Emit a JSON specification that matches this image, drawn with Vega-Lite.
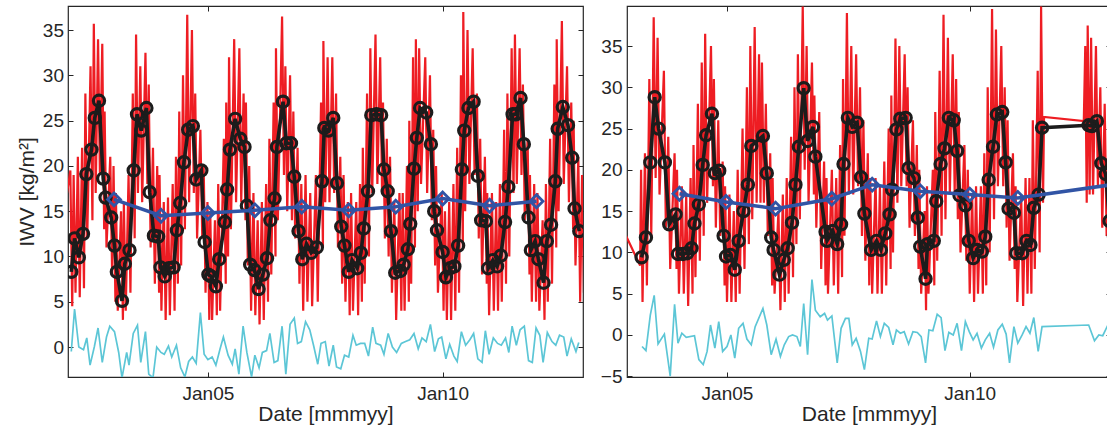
{
"$schema":"https://vega.github.io/schema/vega-lite/v6.json",
"background":"white",
"padding":{"left":15,"top":4,"right":0,"bottom":0},
"spacing":11,
"config":{
 "view":{"stroke":"#262626","strokeWidth":1.2},
 "font":"Liberation Sans",
 "axis":{"labelFont":"Liberation Sans","titleFont":"Liberation Sans","labelColor":"#262626","titleColor":"#262626","labelFontSize":19,"titleFontSize":21,"titleFontWeight":"normal","grid":false,"domain":false,"tickColor":"#262626","tickSize":-5,"tickWidth":1}
},
"datasets":{
"redL":[{"t":2002.0,"v":17},{"t":2002.07,"v":19.5},{"t":2002.11,"v":4.5},{"t":2002.14,"v":19},{"t":2002.18,"v":6},{"t":2002.23,"v":21},{"t":2002.27,"v":5.5},{"t":2002.32,"v":22},{"t":2002.36,"v":6.5},{"t":2002.39,"v":28},{"t":2002.43,"v":12},{"t":2002.50,"v":31},{"t":2002.54,"v":14},{"t":2002.57,"v":35.7},{"t":2002.61,"v":17},{"t":2002.66,"v":34},{"t":2002.70,"v":19},{"t":2002.75,"v":33.5},{"t":2002.79,"v":13},{"t":2002.80,"v":26},{"t":2002.84,"v":11},{"t":2002.92,"v":21},{"t":2002.96,"v":8},{"t":2002.99,"v":20},{"t":2003.03,"v":5},{"t":2003.04,"v":17},{"t":2003.08,"v":4},{"t":2003.15,"v":15},{"t":2003.19,"v":3},{"t":2003.21,"v":16},{"t":2003.25,"v":4},{"t":2003.31,"v":19},{"t":2003.35,"v":6},{"t":2003.40,"v":28},{"t":2003.44,"v":12},{"t":2003.47,"v":34.5},{"t":2003.51,"v":17},{"t":2003.56,"v":31},{"t":2003.60,"v":16},{"t":2003.67,"v":32.5},{"t":2003.71,"v":18},{"t":2003.74,"v":29},{"t":2003.78,"v":11},{"t":2003.83,"v":22},{"t":2003.87,"v":7},{"t":2003.92,"v":20},{"t":2003.96,"v":6},{"t":2003.97,"v":19},{"t":2004.01,"v":4},{"t":2004.06,"v":16},{"t":2004.10,"v":3},{"t":2004.15,"v":16.5},{"t":2004.19,"v":3.5},{"t":2004.25,"v":18},{"t":2004.29,"v":4},{"t":2004.32,"v":21},{"t":2004.36,"v":7},{"t":2004.39,"v":26},{"t":2004.43,"v":9},{"t":2004.47,"v":30},{"t":2004.51,"v":13},{"t":2004.56,"v":36.7},{"t":2004.60,"v":16},{"t":2004.66,"v":35},{"t":2004.70,"v":17},{"t":2004.73,"v":28},{"t":2004.77,"v":12},{"t":2004.84,"v":24},{"t":2004.88,"v":12},{"t":2004.91,"v":20},{"t":2004.95,"v":6},{"t":2004.99,"v":16},{"t":2005.03,"v":3},{"t":2005.05,"v":15},{"t":2005.09,"v":3},{"t":2005.15,"v":14},{"t":2005.19,"v":3.5},{"t":2005.22,"v":18},{"t":2005.26,"v":4},{"t":2005.34,"v":23},{"t":2005.38,"v":7},{"t":2005.39,"v":27},{"t":2005.43,"v":10},{"t":2005.45,"v":32},{"t":2005.49,"v":13},{"t":2005.56,"v":34},{"t":2005.60,"v":16},{"t":2005.67,"v":33},{"t":2005.71,"v":16},{"t":2005.76,"v":28},{"t":2005.80,"v":14},{"t":2005.81,"v":27},{"t":2005.85,"v":9},{"t":2005.88,"v":20},{"t":2005.92,"v":4},{"t":2005.97,"v":17},{"t":2006.01,"v":3.5},{"t":2006.06,"v":14},{"t":2006.10,"v":2.5},{"t":2006.15,"v":16},{"t":2006.19,"v":3},{"t":2006.24,"v":18},{"t":2006.28,"v":5},{"t":2006.31,"v":23},{"t":2006.35,"v":8},{"t":2006.40,"v":27},{"t":2006.44,"v":10},{"t":2006.45,"v":33},{"t":2006.49,"v":14},{"t":2006.58,"v":36.5},{"t":2006.62,"v":19},{"t":2006.65,"v":31},{"t":2006.69,"v":15},{"t":2006.75,"v":30},{"t":2006.79,"v":14},{"t":2006.82,"v":26},{"t":2006.86,"v":12},{"t":2006.91,"v":22},{"t":2006.95,"v":7},{"t":2006.99,"v":18},{"t":2007.03,"v":4},{"t":2007.08,"v":19},{"t":2007.12,"v":5},{"t":2007.18,"v":17},{"t":2007.22,"v":4.5},{"t":2007.30,"v":19},{"t":2007.34,"v":5},{"t":2007.41,"v":27},{"t":2007.45,"v":11},{"t":2007.46,"v":33.8},{"t":2007.50,"v":16},{"t":2007.55,"v":32},{"t":2007.59,"v":16},{"t":2007.65,"v":32},{"t":2007.69,"v":17},{"t":2007.73,"v":28},{"t":2007.77,"v":11},{"t":2007.82,"v":21},{"t":2007.86,"v":7},{"t":2007.89,"v":19},{"t":2007.93,"v":5},{"t":2007.98,"v":16},{"t":2008.02,"v":3.5},{"t":2008.05,"v":17},{"t":2008.09,"v":4},{"t":2008.16,"v":16},{"t":2008.20,"v":3.5},{"t":2008.24,"v":18},{"t":2008.28,"v":5},{"t":2008.30,"v":22},{"t":2008.34,"v":7},{"t":2008.39,"v":28},{"t":2008.43,"v":10},{"t":2008.46,"v":33},{"t":2008.50,"v":17},{"t":2008.57,"v":34.5},{"t":2008.61,"v":18},{"t":2008.67,"v":32},{"t":2008.71,"v":17},{"t":2008.73,"v":27},{"t":2008.77,"v":12},{"t":2008.81,"v":23},{"t":2008.85,"v":10},{"t":2008.88,"v":21},{"t":2008.92,"v":6},{"t":2008.97,"v":16},{"t":2009.01,"v":3},{"t":2009.08,"v":17},{"t":2009.12,"v":4},{"t":2009.15,"v":17},{"t":2009.19,"v":4},{"t":2009.24,"v":20},{"t":2009.28,"v":5},{"t":2009.29,"v":25},{"t":2009.33,"v":7},{"t":2009.37,"v":32},{"t":2009.41,"v":11},{"t":2009.43,"v":34},{"t":2009.47,"v":15},{"t":2009.50,"v":33},{"t":2009.54,"v":18},{"t":2009.63,"v":32},{"t":2009.67,"v":17},{"t":2009.73,"v":30},{"t":2009.77,"v":14},{"t":2009.80,"v":24},{"t":2009.84,"v":9},{"t":2009.86,"v":20},{"t":2009.90,"v":6},{"t":2009.98,"v":17},{"t":2010.02,"v":4},{"t":2010.05,"v":15},{"t":2010.09,"v":3},{"t":2010.14,"v":16},{"t":2010.18,"v":3},{"t":2010.23,"v":18},{"t":2010.27,"v":4},{"t":2010.31,"v":22},{"t":2010.35,"v":6},{"t":2010.39,"v":30},{"t":2010.43,"v":11},{"t":2010.44,"v":37},{"t":2010.48,"v":15},{"t":2010.53,"v":35},{"t":2010.57,"v":18},{"t":2010.64,"v":33},{"t":2010.68,"v":19},{"t":2010.73,"v":28},{"t":2010.77,"v":12},{"t":2010.80,"v":23},{"t":2010.84,"v":8},{"t":2010.90,"v":21},{"t":2010.94,"v":7},{"t":2010.95,"v":17},{"t":2010.99,"v":3.5},{"t":2011.05,"v":17},{"t":2011.09,"v":4},{"t":2011.14,"v":16},{"t":2011.18,"v":4},{"t":2011.22,"v":18},{"t":2011.26,"v":5},{"t":2011.31,"v":24},{"t":2011.35,"v":7},{"t":2011.38,"v":28},{"t":2011.42,"v":10},{"t":2011.47,"v":33},{"t":2011.51,"v":17},{"t":2011.54,"v":34.5},{"t":2011.58,"v":18},{"t":2011.64,"v":33},{"t":2011.68,"v":19},{"t":2011.71,"v":29},{"t":2011.75,"v":14},{"t":2011.81,"v":23},{"t":2011.85,"v":8},{"t":2011.86,"v":19},{"t":2011.90,"v":5},{"t":2011.95,"v":18},{"t":2011.99,"v":5},{"t":2012.02,"v":17},{"t":2012.06,"v":4},{"t":2012.13,"v":14},{"t":2012.17,"v":3},{"t":2012.20,"v":18},{"t":2012.24,"v":5},{"t":2012.29,"v":23},{"t":2012.33,"v":7},{"t":2012.38,"v":29},{"t":2012.42,"v":11},{"t":2012.43,"v":34},{"t":2012.47,"v":15},{"t":2012.54,"v":36},{"t":2012.58,"v":18},{"t":2012.65,"v":31},{"t":2012.69,"v":16},{"t":2012.74,"v":27},{"t":2012.78,"v":13},{"t":2012.79,"v":25},{"t":2012.83,"v":9},{"t":2012.89,"v":21},{"t":2012.93,"v":5},{"t":2012.97,"v":19},{"t":2013.01,"v":6}],
"monL":[{"t":2002.09,"v":8.3},{"t":2002.16,"v":12.0},{"t":2002.25,"v":9.9},{"t":2002.34,"v":12.5},{"t":2002.41,"v":19.1},{"t":2002.52,"v":21.8},{"t":2002.59,"v":25.3},{"t":2002.68,"v":27.2},{"t":2002.77,"v":18.6},{"t":2002.82,"v":16.5},{"t":2002.94,"v":14.3},{"t":2003.01,"v":11.2},{"t":2003.06,"v":8.3},{"t":2003.17,"v":5.1},{"t":2003.23,"v":9.2},{"t":2003.33,"v":10.7},{"t":2003.42,"v":19.5},{"t":2003.49,"v":25.7},{"t":2003.58,"v":23.9},{"t":2003.69,"v":26.4},{"t":2003.76,"v":17.1},{"t":2003.85,"v":12.3},{"t":2003.94,"v":12.2},{"t":2003.99,"v":8.8},{"t":2004.08,"v":7.8},{"t":2004.17,"v":8.7},{"t":2004.27,"v":8.8},{"t":2004.34,"v":12.9},{"t":2004.41,"v":15.9},{"t":2004.49,"v":20.4},{"t":2004.58,"v":24.0},{"t":2004.68,"v":24.4},{"t":2004.75,"v":18.5},{"t":2004.86,"v":19.5},{"t":2004.93,"v":11.6},{"t":2005.01,"v":8.0},{"t":2005.07,"v":7.8},{"t":2005.17,"v":6.7},{"t":2005.24,"v":9.7},{"t":2005.36,"v":13.8},{"t":2005.41,"v":17.4},{"t":2005.47,"v":21.8},{"t":2005.58,"v":25.2},{"t":2005.69,"v":23.0},{"t":2005.78,"v":22.1},{"t":2005.83,"v":15.6},{"t":2005.90,"v":9.1},{"t":2005.99,"v":8.5},{"t":2006.08,"v":6.4},{"t":2006.17,"v":8.0},{"t":2006.26,"v":9.8},{"t":2006.33,"v":14.0},{"t":2006.42,"v":16.4},{"t":2006.47,"v":22.1},{"t":2006.60,"v":27.1},{"t":2006.67,"v":22.5},{"t":2006.77,"v":22.5},{"t":2006.84,"v":18.8},{"t":2006.93,"v":12.8},{"t":2007.01,"v":9.7},{"t":2007.10,"v":11.4},{"t":2007.20,"v":10.4},{"t":2007.32,"v":11.0},{"t":2007.43,"v":18.3},{"t":2007.48,"v":24.2},{"t":2007.57,"v":23.9},{"t":2007.67,"v":25.3},{"t":2007.75,"v":18.1},{"t":2007.84,"v":13.3},{"t":2007.91,"v":11.2},{"t":2008.00,"v":8.3},{"t":2008.07,"v":9.6},{"t":2008.18,"v":8.7},{"t":2008.26,"v":10.4},{"t":2008.32,"v":13.1},{"t":2008.41,"v":17.2},{"t":2008.48,"v":25.6},{"t":2008.59,"v":25.7},{"t":2008.69,"v":25.6},{"t":2008.75,"v":19.6},{"t":2008.83,"v":17.2},{"t":2008.90,"v":12.8},{"t":2008.99,"v":8.2},{"t":2009.10,"v":8.4},{"t":2009.17,"v":9.1},{"t":2009.26,"v":10.8},{"t":2009.31,"v":13.6},{"t":2009.39,"v":19.7},{"t":2009.45,"v":23.1},{"t":2009.52,"v":26.4},{"t":2009.65,"v":25.9},{"t":2009.75,"v":22.4},{"t":2009.82,"v":15.0},{"t":2009.88,"v":12.9},{"t":2010.00,"v":10.5},{"t":2010.07,"v":7.7},{"t":2010.16,"v":8.7},{"t":2010.25,"v":8.9},{"t":2010.33,"v":11.2},{"t":2010.41,"v":19.6},{"t":2010.46,"v":23.9},{"t":2010.55,"v":26.4},{"t":2010.66,"v":27.1},{"t":2010.75,"v":18.9},{"t":2010.82,"v":14.0},{"t":2010.92,"v":13.9},{"t":2010.97,"v":8.7},{"t":2011.07,"v":9.6},{"t":2011.16,"v":8.9},{"t":2011.24,"v":10.1},{"t":2011.33,"v":13.8},{"t":2011.40,"v":17.7},{"t":2011.49,"v":25.7},{"t":2011.56,"v":25.7},{"t":2011.66,"v":27.5},{"t":2011.73,"v":22.4},{"t":2011.83,"v":14.3},{"t":2011.88,"v":10.7},{"t":2011.97,"v":11.7},{"t":2012.04,"v":9.7},{"t":2012.15,"v":7.1},{"t":2012.22,"v":11.7},{"t":2012.31,"v":13.5},{"t":2012.40,"v":18.3},{"t":2012.45,"v":24.1},{"t":2012.56,"v":26.5},{"t":2012.67,"v":24.5},{"t":2012.76,"v":20.9},{"t":2012.81,"v":15.3},{"t":2012.91,"v":12.8}],
"annL":[{"t":2003,"v":16.3},{"t":2004,"v":14.5},{"t":2005,"v":14.8},{"t":2006,"v":15.1},{"t":2007,"v":15.5},{"t":2008,"v":15.1},{"t":2009,"v":15.5},{"t":2010,"v":16.4},{"t":2011,"v":15.6},{"t":2012,"v":16.1}],
"cyL":[{"t":2002.09,"v":-0.5},{"t":2002.16,"v":4.2},{"t":2002.25,"v":0},{"t":2002.35,"v":-0.3},{"t":2002.42,"v":1.0},{"t":2002.49,"v":-2.0},{"t":2002.58,"v":0},{"t":2002.66,"v":2.1},{"t":2002.75,"v":-1.7},{"t":2002.84,"v":1.1},{"t":2002.91,"v":2.3},{"t":2003.01,"v":1.7},{"t":2003.10,"v":-0.6},{"t":2003.17,"v":-3.4},{"t":2003.27,"v":-0.6},{"t":2003.32,"v":-2.0},{"t":2003.41,"v":1.5},{"t":2003.50,"v":2.4},{"t":2003.57,"v":-1.7},{"t":2003.67,"v":1.7},{"t":2003.74,"v":-3.0},{"t":2003.83,"v":-3.4},{"t":2003.91,"v":0},{"t":2004.00,"v":-0.6},{"t":2004.07,"v":-0.8},{"t":2004.16,"v":0.1},{"t":2004.23,"v":-1.1},{"t":2004.33,"v":0.2},{"t":2004.42,"v":-2.3},{"t":2004.51,"v":-3.3},{"t":2004.59,"v":-1.6},{"t":2004.67,"v":-1.1},{"t":2004.75,"v":-1.8},{"t":2004.84,"v":3.8},{"t":2004.92,"v":-0.8},{"t":2005.00,"v":-1.4},{"t":2005.09,"v":-1.1},{"t":2005.17,"v":-2.0},{"t":2005.26,"v":-0.2},{"t":2005.33,"v":1.1},{"t":2005.43,"v":-0.9},{"t":2005.52,"v":-1.9},{"t":2005.58,"v":-0.2},{"t":2005.66,"v":-3.0},{"t":2005.75,"v":2.3},{"t":2005.83,"v":-0.6},{"t":2005.93,"v":-3.3},{"t":2006.00,"v":-0.9},{"t":2006.09,"v":-2.3},{"t":2006.16,"v":-0.6},{"t":2006.25,"v":-0.4},{"t":2006.32,"v":1.5},{"t":2006.41,"v":-1.7},{"t":2006.49,"v":-1.5},{"t":2006.58,"v":2.3},{"t":2006.66,"v":-3.0},{"t":2006.75,"v":2.5},{"t":2006.84,"v":3.2},{"t":2006.91,"v":0.4},{"t":2006.99,"v":0.6},{"t":2007.08,"v":2.8},{"t":2007.17,"v":1.9},{"t":2007.25,"v":0.2},{"t":2007.34,"v":-1.9},{"t":2007.41,"v":0.4},{"t":2007.50,"v":0.6},{"t":2007.58,"v":-2.1},{"t":2007.67,"v":0.2},{"t":2007.74,"v":-2.2},{"t":2007.83,"v":-2.4},{"t":2007.91,"v":-0.9},{"t":2008.00,"v":-1.1},{"t":2008.09,"v":1.3},{"t":2008.16,"v":0.2},{"t":2008.25,"v":0.4},{"t":2008.34,"v":0.4},{"t":2008.42,"v":-1.0},{"t":2008.51,"v":2.2},{"t":2008.58,"v":0.4},{"t":2008.68,"v":0.2},{"t":2008.75,"v":-0.8},{"t":2008.84,"v":1.5},{"t":2008.93,"v":0},{"t":2009.02,"v":-0.6},{"t":2009.12,"v":0.4},{"t":2009.21,"v":0.6},{"t":2009.30,"v":0.8},{"t":2009.39,"v":1.5},{"t":2009.48,"v":-0.2},{"t":2009.56,"v":1.0},{"t":2009.65,"v":0.6},{"t":2009.74,"v":2.5},{"t":2009.83,"v":-0.5},{"t":2009.91,"v":0.9},{"t":2009.98,"v":1.1},{"t":2010.07,"v":-1.3},{"t":2010.15,"v":0.3},{"t":2010.24,"v":-1.0},{"t":2010.31,"v":-1.6},{"t":2010.40,"v":1.7},{"t":2010.49,"v":0.2},{"t":2010.58,"v":0.8},{"t":2010.66,"v":1.5},{"t":2010.75,"v":-1.3},{"t":2010.84,"v":-1.7},{"t":2010.91,"v":1.8},{"t":2010.99,"v":-0.8},{"t":2011.08,"v":1.0},{"t":2011.17,"v":0.4},{"t":2011.25,"v":0.2},{"t":2011.34,"v":1.0},{"t":2011.41,"v":-0.6},{"t":2011.48,"v":2.3},{"t":2011.57,"v":0.2},{"t":2011.65,"v":1.9},{"t":2011.74,"v":2.3},{"t":2011.83,"v":-1.5},{"t":2011.91,"v":-1.7},{"t":2011.99,"v":2.1},{"t":2012.07,"v":1.3},{"t":2012.14,"v":-1.7},{"t":2012.23,"v":1.6},{"t":2012.33,"v":0.6},{"t":2012.41,"v":0.2},{"t":2012.49,"v":1.3},{"t":2012.58,"v":1.1},{"t":2012.65,"v":-1.0},{"t":2012.74,"v":0.9},{"t":2012.84,"v":-0.5},{"t":2012.90,"v":0.5}],
"redR":[{"t":2002.80,"v":13.5},{"t":2003.21,"v":8.4},{"t":2003.23,"v":20},{"t":2003.26,"v":4},{"t":2003.31,"v":22},{"t":2003.35,"v":6},{"t":2003.40,"v":31},{"t":2003.44,"v":12},{"t":2003.49,"v":38.5},{"t":2003.53,"v":19},{"t":2003.57,"v":36},{"t":2003.61,"v":17},{"t":2003.70,"v":32},{"t":2003.74,"v":13},{"t":2003.79,"v":24},{"t":2003.83,"v":8},{"t":2003.92,"v":22},{"t":2003.96,"v":8},{"t":2003.97,"v":20},{"t":2004.01,"v":5},{"t":2004.07,"v":18},{"t":2004.11,"v":5},{"t":2004.16,"v":17},{"t":2004.20,"v":3.5},{"t":2004.25,"v":19},{"t":2004.29,"v":5},{"t":2004.31,"v":23},{"t":2004.35,"v":7},{"t":2004.40,"v":28},{"t":2004.44,"v":9},{"t":2004.48,"v":33},{"t":2004.52,"v":12},{"t":2004.55,"v":36.5},{"t":2004.59,"v":16},{"t":2004.67,"v":35},{"t":2004.71,"v":18},{"t":2004.73,"v":31},{"t":2004.77,"v":13},{"t":2004.82,"v":26},{"t":2004.86,"v":12},{"t":2004.91,"v":21},{"t":2004.95,"v":6},{"t":2004.96,"v":18},{"t":2005.00,"v":4},{"t":2005.05,"v":17},{"t":2005.09,"v":4},{"t":2005.14,"v":15},{"t":2005.18,"v":4},{"t":2005.22,"v":20},{"t":2005.26,"v":5},{"t":2005.32,"v":25},{"t":2005.36,"v":8},{"t":2005.41,"v":30},{"t":2005.45,"v":11},{"t":2005.48,"v":35},{"t":2005.52,"v":14},{"t":2005.57,"v":37.3},{"t":2005.61,"v":16},{"t":2005.66,"v":34},{"t":2005.69,"v":16},{"t":2005.72,"v":33},{"t":2005.76,"v":16},{"t":2005.80,"v":28},{"t":2005.84,"v":12},{"t":2005.89,"v":22},{"t":2005.93,"v":6},{"t":2005.94,"v":19},{"t":2005.98,"v":5},{"t":2006.06,"v":15},{"t":2006.10,"v":3},{"t":2006.15,"v":17},{"t":2006.19,"v":4},{"t":2006.23,"v":19},{"t":2006.27,"v":5},{"t":2006.32,"v":24},{"t":2006.36,"v":7},{"t":2006.39,"v":30},{"t":2006.43,"v":11},{"t":2006.46,"v":34},{"t":2006.50,"v":14},{"t":2006.56,"v":39.8},{"t":2006.60,"v":20},{"t":2006.64,"v":35},{"t":2006.68,"v":16},{"t":2006.75,"v":33},{"t":2006.79,"v":17},{"t":2006.80,"v":29},{"t":2006.84,"v":13},{"t":2006.90,"v":27},{"t":2006.94,"v":8},{"t":2007.00,"v":21},{"t":2007.03,"v":6},{"t":2007.05,"v":19},{"t":2007.08,"v":5},{"t":2007.16,"v":20},{"t":2007.20,"v":6},{"t":2007.25,"v":19},{"t":2007.29,"v":5},{"t":2007.33,"v":23},{"t":2007.37,"v":7},{"t":2007.39,"v":31},{"t":2007.42,"v":12},{"t":2007.47,"v":39},{"t":2007.51,"v":17},{"t":2007.56,"v":35},{"t":2007.60,"v":17},{"t":2007.66,"v":34},{"t":2007.70,"v":18},{"t":2007.74,"v":30},{"t":2007.78,"v":12},{"t":2007.81,"v":26},{"t":2007.85,"v":9},{"t":2007.90,"v":22},{"t":2007.93,"v":6},{"t":2007.95,"v":19},{"t":2007.99,"v":5},{"t":2008.06,"v":19},{"t":2008.10,"v":5},{"t":2008.15,"v":18},{"t":2008.19,"v":5},{"t":2008.24,"v":21},{"t":2008.28,"v":6},{"t":2008.33,"v":25},{"t":2008.37,"v":8},{"t":2008.385,"v":29},{"t":2008.42,"v":10},{"t":2008.47,"v":35.9},{"t":2008.51,"v":16},{"t":2008.55,"v":35},{"t":2008.59,"v":18},{"t":2008.66,"v":34},{"t":2008.70,"v":18},{"t":2008.72,"v":30},{"t":2008.76,"v":13},{"t":2008.83,"v":26},{"t":2008.87,"v":12},{"t":2008.91,"v":23},{"t":2008.945,"v":8},{"t":2008.96,"v":20},{"t":2009.00,"v":5},{"t":2009.07,"v":15},{"t":2009.10,"v":3},{"t":2009.12,"v":18},{"t":2009.15,"v":5},{"t":2009.24,"v":20},{"t":2009.27,"v":6},{"t":2009.29,"v":27},{"t":2009.33,"v":9},{"t":2009.38,"v":32},{"t":2009.42,"v":12},{"t":2009.46,"v":38.8},{"t":2009.50,"v":14},{"t":2009.55,"v":36},{"t":2009.59,"v":17},{"t":2009.65,"v":34},{"t":2009.69,"v":17},{"t":2009.72,"v":31},{"t":2009.755,"v":14},{"t":2009.775,"v":27},{"t":2009.81,"v":10},{"t":2009.89,"v":23},{"t":2009.93,"v":9},{"t":2009.96,"v":20},{"t":2010.00,"v":5},{"t":2010.05,"v":17},{"t":2010.09,"v":4},{"t":2010.13,"v":18},{"t":2010.17,"v":5},{"t":2010.23,"v":18},{"t":2010.27,"v":5},{"t":2010.30,"v":22},{"t":2010.34,"v":6},{"t":2010.37,"v":30},{"t":2010.41,"v":10},{"t":2010.46,"v":39.5},{"t":2010.50,"v":14},{"t":2010.54,"v":37},{"t":2010.58,"v":18},{"t":2010.65,"v":35},{"t":2010.69,"v":18},{"t":2010.72,"v":30},{"t":2010.76,"v":13},{"t":2010.78,"v":26},{"t":2010.82,"v":9},{"t":2010.89,"v":22},{"t":2010.925,"v":8},{"t":2010.945,"v":18},{"t":2010.98,"v":4},{"t":2011.06,"v":17},{"t":2011.10,"v":3.5},{"t":2011.15,"v":19},{"t":2011.19,"v":5},{"t":2011.23,"v":19},{"t":2011.27,"v":5},{"t":2011.30,"v":26},{"t":2011.34,"v":8},{"t":2011.40,"v":32},{"t":2011.44,"v":10},{"t":2011.47,"v":39.8},{"t":2011.51,"v":16},{"t":2011.53,"v":26.4},{"t":2012.35,"v":25.9},{"t":2012.38,"v":35},{"t":2012.41,"v":16},{"t":2012.43,"v":37.5},{"t":2012.47,"v":17},{"t":2012.50,"v":36},{"t":2012.54,"v":17},{"t":2012.60,"v":35},{"t":2012.64,"v":18},{"t":2012.69,"v":30},{"t":2012.73,"v":13},{"t":2012.78,"v":28},{"t":2012.82,"v":12},{"t":2012.86,"v":24},{"t":2012.90,"v":7},{"t":2012.95,"v":20},{"t":2012.99,"v":5}],
"monR":[{"t":2003.24,"v":9.4},{"t":2003.33,"v":11.8},{"t":2003.42,"v":20.9},{"t":2003.51,"v":28.8},{"t":2003.59,"v":25.0},{"t":2003.72,"v":20.9},{"t":2003.81,"v":13.4},{"t":2003.94,"v":14.6},{"t":2003.99,"v":9.8},{"t":2004.09,"v":9.8},{"t":2004.18,"v":9.9},{"t":2004.27,"v":10.5},{"t":2004.33,"v":13.5},{"t":2004.42,"v":15.8},{"t":2004.50,"v":20.6},{"t":2004.57,"v":24.2},{"t":2004.69,"v":26.8},{"t":2004.75,"v":19.6},{"t":2004.84,"v":19.9},{"t":2004.93,"v":12.0},{"t":2004.98,"v":9.5},{"t":2005.07,"v":9.7},{"t":2005.16,"v":7.9},{"t":2005.24,"v":11.4},{"t":2005.34,"v":15.0},{"t":2005.43,"v":18.2},{"t":2005.50,"v":22.9},{"t":2005.74,"v":24.1},{"t":2005.82,"v":19.6},{"t":2005.91,"v":11.8},{"t":2005.96,"v":10.3},{"t":2006.08,"v":7.3},{"t":2006.17,"v":9.1},{"t":2006.25,"v":10.5},{"t":2006.34,"v":13.6},{"t":2006.41,"v":18.2},{"t":2006.48,"v":22.8},{"t":2006.58,"v":29.9},{"t":2006.66,"v":23.5},{"t":2006.77,"v":25.2},{"t":2006.82,"v":21.6},{"t":2007.03,"v":12.5},{"t":2007.06,"v":11.4},{"t":2007.18,"v":12.6},{"t":2007.27,"v":11.0},{"t":2007.35,"v":13.4},{"t":2007.40,"v":20.7},{"t":2007.49,"v":26.3},{"t":2007.58,"v":25.2},{"t":2007.68,"v":25.7},{"t":2007.76,"v":19.1},{"t":2007.83,"v":14.7},{"t":2007.97,"v":10.3},{"t":2008.08,"v":11.4},{"t":2008.17,"v":10.3},{"t":2008.26,"v":12.3},{"t":2008.35,"v":14.6},{"t":2008.40,"v":17.6},{"t":2008.49,"v":24.9},{"t":2008.57,"v":26.2},{"t":2008.68,"v":26.3},{"t":2008.74,"v":20.2},{"t":2008.85,"v":19.0},{"t":2008.93,"v":14.2},{"t":2008.98,"v":10.7},{"t":2009.09,"v":6.8},{"t":2009.13,"v":11.0},{"t":2009.26,"v":11.4},{"t":2009.31,"v":16.2},{"t":2009.40,"v":20.7},{"t":2009.48,"v":22.6},{"t":2009.57,"v":26.3},{"t":2009.67,"v":26.0},{"t":2009.74,"v":22.3},{"t":2009.79,"v":16.9},{"t":2009.91,"v":15.7},{"t":2009.98,"v":11.4},{"t":2010.07,"v":9.3},{"t":2010.15,"v":10.3},{"t":2010.25,"v":10.1},{"t":2010.32,"v":11.9},{"t":2010.39,"v":18.8},{"t":2010.48,"v":22.8},{"t":2010.56,"v":26.7},{"t":2010.67,"v":27.0},{"t":2010.74,"v":20.9},{"t":2010.80,"v":15.3},{"t":2010.91,"v":14.8},{"t":2010.96,"v":9.9},{"t":2011.08,"v":9.9},{"t":2011.17,"v":11.4},{"t":2011.25,"v":10.9},{"t":2011.32,"v":15.4},{"t":2011.42,"v":17.0},{"t":2011.49,"v":25.1},{"t":2012.45,"v":25.4},{"t":2012.52,"v":25.3},{"t":2012.62,"v":25.9},{"t":2012.71,"v":20.8},{"t":2012.80,"v":19.5},{"t":2012.88,"v":13.8},{"t":2012.97,"v":12.0}],
"annR":[{"t":2004.02,"v":17.1},{"t":2004.98,"v":16.1},{"t":2006.0,"v":15.3},{"t":2007.16,"v":16.5},{"t":2007.99,"v":18.2},{"t":2008.98,"v":17.4},{"t":2010.0,"v":17.0},{"t":2010.99,"v":16.6},{"t":2013.05,"v":18.3}],
"cyR":[{"t":2003.25,"v":-1.4},{"t":2003.33,"v":-1.9},{"t":2003.42,"v":2.4},{"t":2003.50,"v":4.8},{"t":2003.58,"v":-1.1},{"t":2003.71,"v":0.1},{"t":2003.83,"v":-5.0},{"t":2003.92,"v":3.7},{"t":2003.99,"v":-1.0},{"t":2004.07,"v":0.2},{"t":2004.16,"v":-0.3},{"t":2004.33,"v":-0.1},{"t":2004.42,"v":-3.0},{"t":2004.51,"v":-3.6},{"t":2004.59,"v":-2.0},{"t":2004.66,"v":1.2},{"t":2004.75,"v":-1.6},{"t":2004.83,"v":1.6},{"t":2004.91,"v":-2.0},{"t":2005.00,"v":-1.4},{"t":2005.08,"v":0},{"t":2005.16,"v":-2.8},{"t":2005.24,"v":0.8},{"t":2005.33,"v":1.4},{"t":2005.41,"v":-0.5},{"t":2005.50,"v":-1.2},{"t":2005.58,"v":1.0},{"t":2005.74,"v":3.2},{"t":2005.82,"v":1.2},{"t":2005.91,"v":-2.4},{"t":2006.01,"v":-0.5},{"t":2006.10,"v":-2.6},{"t":2006.18,"v":-1.2},{"t":2006.27,"v":-0.2},{"t":2006.35,"v":0},{"t":2006.44,"v":-0.2},{"t":2006.51,"v":-1.4},{"t":2006.58,"v":3.8},{"t":2006.66,"v":-2.4},{"t":2006.75,"v":6.7},{"t":2006.82,"v":3.0},{"t":2006.92,"v":2.2},{"t":2007.01,"v":2.6},{"t":2007.07,"v":1.8},{"t":2007.16,"v":2.3},{"t":2007.27,"v":-3.4},{"t":2007.35,"v":0.8},{"t":2007.44,"v":2.0},{"t":2007.51,"v":2.0},{"t":2007.58,"v":-1.2},{"t":2007.66,"v":-0.4},{"t":2007.75,"v":-2.0},{"t":2007.83,"v":-4.2},{"t":2007.92,"v":-0.4},{"t":2007.99,"v":-0.5},{"t":2008.08,"v":1.7},{"t":2008.16,"v":-0.2},{"t":2008.24,"v":1.4},{"t":2008.33,"v":0.9},{"t":2008.42,"v":-1.2},{"t":2008.49,"v":0.6},{"t":2008.57,"v":0.2},{"t":2008.65,"v":0.4},{"t":2008.74,"v":-1.1},{"t":2008.83,"v":0.4},{"t":2008.92,"v":0.3},{"t":2009.00,"v":-0.2},{"t":2009.09,"v":-3.4},{"t":2009.16,"v":0.6},{"t":2009.24,"v":0.5},{"t":2009.33,"v":2.5},{"t":2009.41,"v":2.1},{"t":2009.49,"v":-1.9},{"t":2009.57,"v":0.3},{"t":2009.66,"v":0},{"t":2009.74,"v":1.4},{"t":2009.83,"v":-1.9},{"t":2009.91,"v":1.6},{"t":2009.99,"v":0.4},{"t":2010.07,"v":-0.6},{"t":2010.15,"v":0.2},{"t":2010.24,"v":-1.6},{"t":2010.32,"v":-0.6},{"t":2010.41,"v":0.2},{"t":2010.49,"v":-1.5},{"t":2010.58,"v":0.6},{"t":2010.67,"v":1.3},{"t":2010.75,"v":0.1},{"t":2010.82,"v":-3.4},{"t":2010.91,"v":1.0},{"t":2010.99,"v":-1.0},{"t":2011.08,"v":0},{"t":2011.16,"v":1.0},{"t":2011.24,"v":0.2},{"t":2011.32,"v":2.1},{"t":2011.41,"v":-2.0},{"t":2011.49,"v":1.0},{"t":2012.45,"v":1.2},{"t":2012.57,"v":-0.7},{"t":2012.66,"v":0},{"t":2012.74,"v":-0.1},{"t":2012.83,"v":1.0},{"t":2012.90,"v":0}]
},
"hconcat":[
{
 "width":515,"height":371,
 "resolve":{"axis":{"x":"independent","y":"independent"}},
 "layer":[
  {"data":{"name":"redL"},"mark":{"type":"line","color":"#ee1d23","strokeWidth":2.2,"clip":true},
   "encoding":{
    "x":{"field":"t","type":"quantitative","scale":{"domain":[2002.02,2012.99],"nice":false,"zero":false},
     "axis":{"orient":"bottom","values":[2005,2010],"labelExpr":"'Jan' + substring(toString(datum.value), 2, 4)","title":"Date [mmmyy]","labelPadding":12,"titlePadding":0,"labelFlush":false}},
    "y":{"field":"v","type":"quantitative","scale":{"domain":[-3.31,37.66],"nice":false,"zero":false},
     "axis":{"orient":"left","values":[0,5,10,15,20,25,30,35],"title":"IWV [kg/m²]","labelPadding":9.5,"titlePadding":5,"minExtent":26,"maxExtent":26}}}},
  {"data":{"name":"monL"},"mark":{"type":"line","color":"#1c1c1c","strokeWidth":3.6,"clip":true},
   "encoding":{
    "x":{"field":"t","type":"quantitative","scale":{"domain":[2002.02,2012.99],"nice":false,"zero":false},
     "axis":{"orient":"top","values":[2005,2010],"labels":false,"title":null}},
    "y":{"field":"v","type":"quantitative","scale":{"domain":[-3.31,37.66],"nice":false,"zero":false},
     "axis":{"orient":"right","values":[0,5,10,15,20,25,30,35],"labels":false,"title":null}}}},
  {"data":{"name":"monL"},"mark":{"type":"point","shape":"circle","filled":false,"color":"#1c1c1c","strokeWidth":3.2,"size":125,"opacity":1,"clip":true},
   "encoding":{
    "x":{"field":"t","type":"quantitative","scale":{"domain":[2002.02,2012.99],"nice":false,"zero":false},"axis":null},
    "y":{"field":"v","type":"quantitative","scale":{"domain":[-3.31,37.66],"nice":false,"zero":false},"axis":null}}},
  {"data":{"name":"cyL"},"mark":{"type":"line","color":"#5cc6d6","strokeWidth":1.7,"clip":true},
   "encoding":{
    "x":{"field":"t","type":"quantitative","scale":{"domain":[2002.02,2012.99],"nice":false,"zero":false},"axis":null},
    "y":{"field":"v","type":"quantitative","scale":{"domain":[-3.31,37.66],"nice":false,"zero":false},"axis":null}}},
  {"data":{"name":"annL"},"mark":{"type":"line","color":"#3154a5","strokeWidth":3.5,"clip":true},
   "encoding":{
    "x":{"field":"t","type":"quantitative","scale":{"domain":[2002.02,2012.99],"nice":false,"zero":false},"axis":null},
    "y":{"field":"v","type":"quantitative","scale":{"domain":[-3.31,37.66],"nice":false,"zero":false},"axis":null}}},
  {"data":{"name":"annL"},"mark":{"type":"point","shape":"diamond","filled":false,"color":"#3154a5","strokeWidth":2.8,"size":165,"opacity":1,"clip":true},
   "encoding":{
    "x":{"field":"t","type":"quantitative","scale":{"domain":[2002.02,2012.99],"nice":false,"zero":false},"axis":null},
    "y":{"field":"v","type":"quantitative","scale":{"domain":[-3.31,37.66],"nice":false,"zero":false},"axis":null}}}
 ]
},
{
 "width":484,"height":371,
 "resolve":{"axis":{"x":"independent","y":"independent"}},
 "layer":[
  {"data":{"name":"redR"},"mark":{"type":"line","color":"#ee1d23","strokeWidth":2.2,"clip":true},
   "encoding":{
    "x":{"field":"t","type":"quantitative","scale":{"domain":[2002.94,2012.91],"nice":false,"zero":false},
     "axis":{"orient":"bottom","values":[2005,2010],"labelExpr":"'Jan' + substring(toString(datum.value), 2, 4)","title":"Date [mmmyy]","labelPadding":12,"titlePadding":0,"labelFlush":false}},
    "y":{"field":"v","type":"quantitative","scale":{"domain":[-5.1,39.85],"nice":false,"zero":false},
     "axis":{"orient":"left","values":[-5,0,5,10,15,20,25,30,35],"title":null,"labelPadding":10,"minExtent":30,"maxExtent":30}}}},
  {"data":{"name":"monR"},"mark":{"type":"line","color":"#1c1c1c","strokeWidth":3.6,"clip":true},
   "encoding":{
    "x":{"field":"t","type":"quantitative","scale":{"domain":[2002.94,2012.91],"nice":false,"zero":false},
     "axis":{"orient":"top","values":[2005,2010],"labels":false,"title":null}},
    "y":{"field":"v","type":"quantitative","scale":{"domain":[-5.1,39.85],"nice":false,"zero":false},
     "axis":{"orient":"right","values":[-5,0,5,10,15,20,25,30,35],"labels":false,"title":null}}}},
  {"data":{"name":"monR"},"mark":{"type":"point","shape":"circle","filled":false,"color":"#1c1c1c","strokeWidth":3.2,"size":125,"opacity":1,"clip":true},
   "encoding":{
    "x":{"field":"t","type":"quantitative","scale":{"domain":[2002.94,2012.91],"nice":false,"zero":false},"axis":null},
    "y":{"field":"v","type":"quantitative","scale":{"domain":[-5.1,39.85],"nice":false,"zero":false},"axis":null}}},
  {"data":{"name":"cyR"},"mark":{"type":"line","color":"#5cc6d6","strokeWidth":1.7,"clip":true},
   "encoding":{
    "x":{"field":"t","type":"quantitative","scale":{"domain":[2002.94,2012.91],"nice":false,"zero":false},"axis":null},
    "y":{"field":"v","type":"quantitative","scale":{"domain":[-5.1,39.85],"nice":false,"zero":false},"axis":null}}},
  {"data":{"name":"annR"},"mark":{"type":"line","color":"#3154a5","strokeWidth":3.5,"clip":true},
   "encoding":{
    "x":{"field":"t","type":"quantitative","scale":{"domain":[2002.94,2012.91],"nice":false,"zero":false},"axis":null},
    "y":{"field":"v","type":"quantitative","scale":{"domain":[-5.1,39.85],"nice":false,"zero":false},"axis":null}}},
  {"data":{"name":"annR"},"mark":{"type":"point","shape":"diamond","filled":false,"color":"#3154a5","strokeWidth":2.8,"size":165,"opacity":1,"clip":true},
   "encoding":{
    "x":{"field":"t","type":"quantitative","scale":{"domain":[2002.94,2012.91],"nice":false,"zero":false},"axis":null},
    "y":{"field":"v","type":"quantitative","scale":{"domain":[-5.1,39.85],"nice":false,"zero":false},"axis":null}}}
 ]
}
]
}
